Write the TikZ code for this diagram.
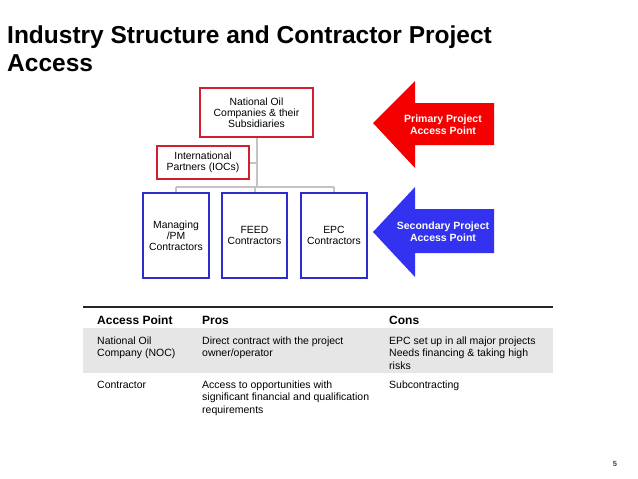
\documentclass[tikz,border=0pt]{standalone}
\usepackage{fontspec}
\setmainfont{Liberation Sans}
\usetikzlibrary{positioning}
\definecolor{boxred}{RGB}{210,30,45}
\definecolor{boxblue}{RGB}{45,45,205}
\definecolor{arrowred}{RGB}{245,0,0}
\definecolor{arrowblue}{RGB}{50,50,240}
\definecolor{treegray}{RGB}{195,195,195}
\definecolor{rowgray}{RGB}{230,230,230}

\begin{document}
\begin{tikzpicture}[
  x=1pt, y=-1pt,
  heading/.style={anchor=base west, inner sep=0pt, font=\fontsize{24.5}{28}\selectfont\bfseries},
  owner/.style={draw=boxred, line width=1.3pt, fill=white, align=center,
    inner sep=0pt, font=\fontsize{10.4}{11}\selectfont},
  contractor/.style={draw=boxblue, line width=1.3pt, fill=white, align=center,
    inner sep=0pt, minimum width=65pt, minimum height=85pt,
    font=\fontsize{10.4}{11}\selectfont},
  tree/.style={draw=treegray, line width=2pt},
  pointtext/.style={text=white, align=center, inner sep=0pt,
    font=\fontsize{10.5}{12.5}\selectfont\bfseries},
  colhead/.style={anchor=base west, inner sep=0pt, font=\fontsize{12}{14}\selectfont\bfseries},
  % base anchor of a cell is the baseline of its last line
  cell/.style={anchor=base west, inner sep=0pt, align=left,
    font=\fontsize{10.5}{12.5}\selectfont}
]
  \useasboundingbox (0,0) rectangle (638,479);

  % Title.
  \node[heading] (title) at (7,43) {Industry Structure and Contractor Project};
  \node[heading] (title2) at (7,71) {Access};

  % Owner boxes.
  \node[owner, minimum width=113pt, minimum height=49pt] (noc) at (256.5,112.5)
    {National Oil\\Companies \& their\\Subsidiaries};
  \node[owner, minimum width=92pt, minimum height=33pt] (ioc) at (203,162.5)
    {International\\Partners (IOCs)};

  % Contractor boxes.
  \node[contractor, minimum width=66pt] (mpm) at (176,235.5) {Managing\\/PM\\Contractors};
  \node[contractor] (feed) at (254.5,235.5) {FEED\\Contractors};
  \node[contractor, minimum width=66pt] (epc) at (334,235.5) {EPC\\Contractors};

  % Tree connectors.
  \coordinate (hub) at (256.5,187);
  \draw[tree] (noc.south) -- (hub);
  \draw[tree] (ioc.east) -- (ioc.east -| noc.south);
  \draw[tree] (mpm.north |- hub) -- (epc.north |- hub);
  \foreach \c in {mpm, feed, epc}
    \draw[tree] (\c.north |- hub) -- (\c.north);

  % Access point arrows.
  \fill[arrowred] (373,123) -- (415,81) -- (415,103) -- (494,103)
    -- (494,145) -- (415,145) -- (415,168) -- cycle;
  \node[pointtext] (primary) at (443,124.5) {Primary Project\\Access Point};
  \fill[arrowblue] (373,232) -- (415,187) -- (415,209) -- (494,209)
    -- (494,253) -- (415,253) -- (415,277) -- cycle;
  \node[pointtext] (secondary) at (443,231.5) {Secondary Project\\Access Point};

  % Table.
  \fill[rowgray] (83,328) rectangle (553,373);
  \draw[line width=1.6pt, black!85] (83,307) -- (553,307);
  \node[colhead] (hpoint) at (97,324) {Access Point};
  \node[colhead] (hpros) at (202,324) {Pros};
  \node[colhead] (hcons) at (389,324) {Cons};

  \node[cell] (noc point) at (97,356.5) {National Oil\\Company (NOC)};
  \node[cell] (noc pros) at (202,356.5) {Direct contract with the project\\owner/operator};
  \node[cell] (noc cons) at (389,369) {EPC set up in all major projects\\Needs financing \& taking high\\risks};

  \node[cell] (con point) at (97,388) {Contractor};
  \node[cell] (con pros) at (202,413) {Access to opportunities with\\significant financial and qualification\\requirements};
  \node[cell] (con cons) at (389,388) {Subcontracting};

  % Page number.
  \node[inner sep=0pt, text=black!75, font=\fontsize{7.5}{9}\selectfont\bfseries] (page) at (615,463.5) {5};
\end{tikzpicture}
\end{document}
